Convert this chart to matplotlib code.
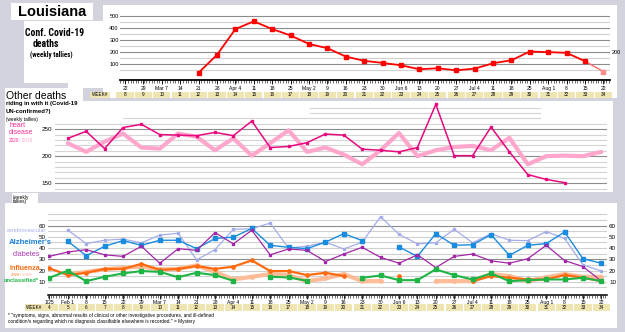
import numpy as np
import matplotlib
matplotlib.use("Agg")
import matplotlib.pyplot as plt
from matplotlib.patches import Rectangle
from matplotlib import font_manager as fm

# ---------------- data ----------------
top_weeks = list(range(8, 35))
top_dates = ["22", "29", "Mar 7", "14", "21", "28", "Apr 4", "11", "18", "25",
             "May 2", "9", "16", "23", "30", "Jun 6", "13", "20", "27", "Jul 4",
             "11", "18", "25", "Aug 1", "8", "15", "22"]
bot_weeks = list(range(4, 35))
bot_dates = ["1/25", "Feb 1", "8", "15"] + top_dates

covid_weeks = list(range(12, 35))
covid_deaths = [30, 179, 395, 459, 395, 341, 270, 235, 165, 129, 112, 92, 59, 67,
                50, 64, 109, 134, 207, 202, 196, 126, 39]

heart_weeks_2020 = list(range(5, 33))
heart_2020 = [233, 246, 214, 253, 259, 240, 239, 238, 244, 238, 265, 216, 218, 225,
              241, 239, 213, 211, 208, 216, 296, 201, 201, 254, 208, 166, 157, 151]
heart_weeks_2019 = list(range(5, 35))
heart_2019 = [224, 208, 227, 242, 216, 214, 242, 236, 211, 233, 201, 224, 248, 208,
              216, 203, 185, 211, 243, 200, 211, 217, 219, 211, 234, 185, 200, 201,
              200, 208]

nan = np.nan
cerebro = [nan, 56, 44, 47, 48, 44.7, 51.6, 53.2, 29.5, 38.6, 56.8, 57.3, 62.3, 40,
           41.7, 45.3, 39.2, 45.3, 68, 52.3, 43.8, 44.7, 56.8, 44.7, 52.9, 47, 46.7,
           54.7, 48.6, 25, 19.5]
alzheimers = [nan, 46.2, 33.2, 41.6, 46.7, 42.5, 47, 47, 39.5, 48.6, 49.8, 57.5, 42.5,
              40.7, 39.5, 45.3, 52.9, 46.7, nan, 41, 32.6, 52.9, 42.5, 43, 52, 33.5,
              42.5, 44, 54.4, 30.5, 26.5]
diabetes = [32.6, 36.5, 38.6, 34, 32.6, 41.6, 26.5, 39.5, 38, 53.8, 43.8, 55.9, 34,
            39.2, 38, 28, 34.7, 40.7, 31.7, 26.5, 34, 22.6, 32.6, 34.7, 28.6, 26.5,
            30.5, 42.5, 28.9, 23.5, 10.5]
flu_2020 = [22, 15.9, 18, 21.4, 21.4, 25.9, 20.5, 21.4, 24, 21.4, 23.5, 29, 19.5, 19.5,
            15.9, 18, 15, nan, nan, 15, nan, nan, nan, 10.5, 15, 13.5, 12, 12, 16,
            13.5, 10.5]
flu_2019 = [nan, 16.8, 18.8, 21, 22.4, 23.5, 21, 21.5, 24.5, 18.8, 12, 14.4, 16.8,
            15.9, 10.5, 12.9, 16.8, 10.5, 10.5, nan, nan, 10.5, 10.5, 10.5, 16.8, 15,
            10.5, 14, 16.8, 14.4, 14.4]
unclassified = [13.5, 19.8, 10.5, 14.4, 17.4, 19.5, 18.8, 14, 18, 15.9, 10.8, nan,
                14.4, 13.8, 10.8, nan, nan, 13.5, 15.6, 11.4, 11.4, 21, 15.9, 12, 17.4,
                10.5, 11.4, 12, 12, 13.5, 10.5]

# ---------------- fonts ----------------
names = {f.name for f in fm.fontManager.ttflist}
BASE = "Liberation Sans" if "Liberation Sans" in names else "DejaVu Sans"
if "Roboto Condensed" in names:
    COND = "Roboto Condensed"
elif "Liberation Sans Narrow" in names:
    COND = "Liberation Sans Narrow"
else:
    COND = BASE
plt.rcParams["font.family"] = [BASE, "DejaVu Sans"]

W, H = 625, 332
BG = "#d3d3de"
fig = plt.figure(figsize=(W / 100, H / 100), dpi=100, facecolor=BG)


def rect(x0, y0, x1, y1, color="white", z=-5):
    fig.patches.append(Rectangle((x0 / W, 1 - y1 / H), (x1 - x0) / W, (y1 - y0) / H,
                                 transform=fig.transFigure, facecolor=color,
                                 edgecolor="none", zorder=z))


def axpx(x0, y0, x1, y1):
    a = fig.add_axes([x0 / W, 1 - y1 / H, (x1 - x0) / W, (y1 - y0) / H])
    a.set_facecolor("none")
    return a


def txt(x, y, s, **kw):
    kw.setdefault("va", "center")
    fig.text(x / W, 1 - y / H, s, **kw)


def wk_top(px):
    return 8 + (px - 125) / 18.4


def wk_bot(px):
    return 8 + (px - 123) / 18.4


# ---------------- white panels ----------------
rect(103, 5, 617, 98)
rect(24, 21, 104, 83)
rect(68, 80, 104, 88)
rect(11, 3, 93, 20)
rect(5, 101, 613, 192)
rect(5, 88, 83, 102)
rect(5, 203, 617, 328)
rect(12, 193, 38, 204)

# ---------------- top chart ----------------
ax1 = axpx(120, 10, 610, 80)
ax1.set_xlim(wk_top(120), wk_top(610))
ax1.set_ylim(-31, 554)
for v in range(50, 501, 50):
    ax1.axhline(v, color="#8c8c8c" if v % 100 == 0 else "#d0d0d0", lw=0.8, zorder=0)
ax1.plot(covid_weeks[:-1], covid_deaths[:-1], color="#ff0000", lw=1.3, marker="s",
         ms=2.7, zorder=3)
ax1.plot(covid_weeks[-2:], covid_deaths[-2:], color="#ff6a6a", lw=1.0, zorder=2)
ax1.plot(covid_weeks[-1:], covid_deaths[-1:], color="#ff8a8a", marker="s", ms=2.5,
         lw=0, zorder=3)
for s in ["left", "right", "top"]:
    ax1.spines[s].set_visible(False)
ax1.spines["bottom"].set_linewidth(1.3)
ax1.set_yticks([100, 200, 300, 400, 500])
ax1.tick_params(axis="y", length=0, labelsize=4, pad=1)
ax1.set_xticks(top_weeks)
ax1.set_xticklabels(top_dates)
ax1.set_xticks(np.arange(wk_top(120), wk_top(610), 1 / 7), minor=True)
ax1.tick_params(axis="x", which="major", length=3.2, width=0.6, labelsize=3.6, pad=1)
ax1.tick_params(axis="x", which="minor", length=1.8, width=0.4)
txt(612, 52, "200", fontsize=4)

# week row (top)
TAN = "#efe5b2"
rect(90, 91.5, 110, 97.5, TAN, z=-4)
txt(100, 94.5, "WEEK#", fontsize=3.3, ha="center")
for wk in top_weeks:
    cx = 125 + (wk - 8) * 18.4
    rect(cx - 8.6, 91.5, cx + 8.6, 97.5, TAN, z=-4)
    txt(cx, 94.5, str(wk), fontsize=3.3, ha="center")

# titles
txt(52, 11.5, "Louisiana", fontsize=10.5, fontweight="bold", ha="center")
txt(55, 32.5, "Conf. Covid-19", fontsize=7, fontweight="bold", ha="center",
    family=[COND, "DejaVu Sans"])
txt(46, 44, "deaths", fontsize=7, fontweight="bold", ha="center",
    family=[COND, "DejaVu Sans"])
txt(30, 55, "(weekly tallies)", fontsize=5, fontweight="bold", ha="left",
    family=[COND, "DejaVu Sans"])

# ---------------- middle chart ----------------
ax2 = axpx(55, 100, 607, 192)
ax2.set_xlim(wk_bot(55), wk_bot(607))
ax2.set_ylim(133.7, 304)
for v in range(140, 261, 10):
    ax2.axhline(v, color="#8c8c8c" if v % 50 == 0 else "#d4d4d4", lw=0.8, zorder=0)
ax2.plot([wk_bot(123), wk_bot(540)], [270, 270], color="#d4d4d4", lw=0.8, zorder=0)
for v in (280, 290):
    ax2.plot([wk_bot(310), wk_bot(540)], [v, v], color="#d4d4d4", lw=0.8, zorder=0)
ax2.plot(heart_weeks_2019, heart_2019, color="#ffa6cc", lw=3, zorder=2,
         solid_joinstyle="round", solid_capstyle="round")
ax2.plot(heart_weeks_2020, heart_2020, color="#e8097f", lw=1.1, marker="s", ms=2,
         zorder=3)
for s in ax2.spines.values():
    s.set_visible(False)
ax2.set_xticks([])
ax2.set_yticks([150, 200, 250])
ax2.tick_params(axis="y", length=0, labelsize=4.5, pad=2)

txt(6, 96, "Other deaths", fontsize=7.5)
txt(6, 103.5, "riding in with it (Covid-19", fontsize=4.3, fontweight="bold")
txt(6, 111.5, "UN-confirmed?)", fontsize=4.3, fontweight="bold")
txt(6, 119, "(weekly tallies)", fontsize=3.4)
txt(9, 125.5, "heart", fontsize=5, color="#ff2d95")
txt(9, 132.5, "disease", fontsize=5, color="#ff2d95")
txt(9, 140, "2020", fontsize=3.4, color="#ff2d95")
txt(19, 140, "/ 2019", fontsize=3.4, color="#ffa6cc")

# ---------------- bottom chart ----------------
ax3 = axpx(48, 210, 607, 294.6)
ax3.set_xlim(wk_bot(48), wk_bot(607))
ax3.set_ylim(-1.5, 74)
for v in range(5, 71, 5):
    ax3.axhline(v, color="#8c8c8c" if v in (30, 60) else "#d0d0d0", lw=0.8, zorder=0)
ax3.plot(bot_weeks, flu_2019, color="#ffb993", lw=3, zorder=2, alpha=0.95,
         solid_capstyle="round", marker="o", ms=2.5)
ax3.plot(bot_weeks, cerebro, color="#a4acea", lw=0.9, marker="s", ms=2, zorder=3)
ax3.plot(bot_weeks, alzheimers, color="#1a8ce0", lw=1.0, marker="s", ms=2.3, zorder=4)
ax3.plot(bot_weeks, diabetes, color="#a326a8", lw=0.9, marker="s", ms=1.8, zorder=4)
ax3.plot(bot_weeks, flu_2020, color="#ff6a10", lw=1.6, marker="o", ms=2.4, zorder=4)
ax3.plot(bot_weeks, unclassified, color="#1fb446", lw=1.5, marker="s", ms=2.2, zorder=4)
for s in ["left", "right", "top"]:
    ax3.spines[s].set_visible(False)
ax3.spines["bottom"].set_linewidth(1.1)
ax3.set_yticks([10, 20, 30, 40, 50, 60])
ax3.tick_params(axis="y", length=0, labelsize=4.5, pad=1.5, labelright=True)
ax3.set_xticks(bot_weeks)
ax3.set_xticklabels(bot_dates)
ax3.set_xticks(np.arange(wk_bot(48), wk_bot(607), 1 / 7), minor=True)
ax3.tick_params(axis="x", which="major", length=3.2, width=0.6, labelsize=3.6, pad=1)
ax3.tick_params(axis="x", which="minor", length=1.8, width=0.4)

rect(25, 304, 43, 310.5, TAN, z=-4)
txt(34, 307.3, "WEEK#", fontsize=3.3, ha="center")
for wk in bot_weeks:
    cx = 123 + (wk - 8) * 18.4
    rect(cx - 8.6, 304, cx + 8.6, 310.5, TAN, z=-4)
    txt(cx, 307.3, str(wk), fontsize=3.3, ha="center")

txt(13, 197, "(weekly", fontsize=3.4)
txt(13, 202, "tallies)", fontsize=3.4)
txt(7, 231, "cerebrovascular", fontsize=4, color="#a4acea")
txt(9, 242.5, "Alzheimer's", fontsize=5.6, color="#1a7fd6", fontweight="bold")
txt(13, 254, "diabetes", fontsize=5.3, color="#b03bb5")
txt(9, 268.5, "Influenza", fontsize=5, color="#ff6a10", fontweight="bold")
txt(11, 274.5, "2020", fontsize=3, color="#ff6a10")
txt(19.5, 274.5, "/ 2019", fontsize=3, color="#ffb08a")
txt(4, 281, "unclassified*", fontsize=4.1, color="#1fb446", fontweight="bold")

txt(8, 316, '* "symptoms, signs, abnormal results of clinical or other investigative '
    'procedures, and ill-defined', fontsize=3.4)
txt(8, 322, 'condition/s regarding which no diagnosis classifiable elsewhere is '
    'recorded." = Mystery', fontsize=3.4)

fig.savefig("out.png", dpi=100, facecolor=BG)
